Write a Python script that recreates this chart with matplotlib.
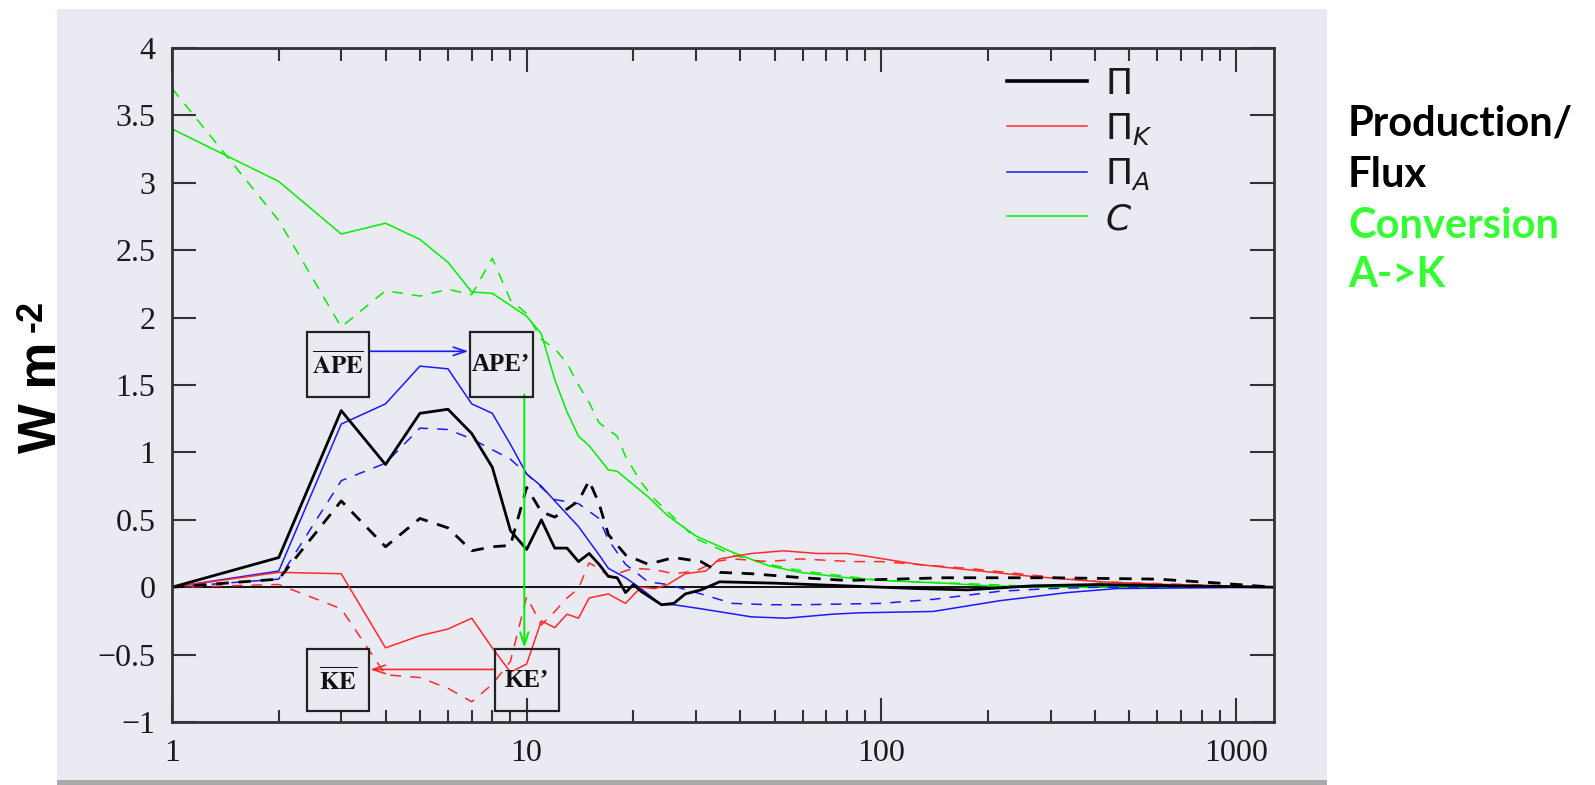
import numpy as np
import matplotlib
matplotlib.use('Agg')
import matplotlib.pyplot as plt
from matplotlib.patches import Rectangle
from matplotlib.lines import Line2D

# wavenumber / flux data (solid = one run, dashed = other)
x_pi = [1, 2, 3, 4, 5, 6, 7, 8, 9, 10, 11, 12, 13, 14, 15, 16, 17, 18, 19, 20, 21, 24, 26, 28, 31, 35, 50, 126, 175, 266, 413, 700, 1280]
y_pi = [0, 0.22, 1.31, 0.91, 1.29, 1.32, 1.14, 0.89, 0.42, 0.28, 0.50, 0.29, 0.29, 0.19, 0.25, 0.17, 0.08, 0.07, -0.04, 0.02, -0.03, -0.13, -0.12, -0.05, -0.02, 0.04, 0.03, -0.01, -0.02, 0.01, 0.02, 0.01, 0.0]
x_pi_d = [1, 2, 3, 4, 5, 6, 7, 8, 9, 10, 11, 12, 13, 14, 15, 16, 17, 19, 22, 26, 31, 35, 43, 60, 80, 150, 300, 600, 900, 1280]
y_pi_d = [0, 0.06, 0.64, 0.30, 0.51, 0.44, 0.27, 0.30, 0.31, 0.74, 0.56, 0.52, 0.58, 0.64, 0.79, 0.62, 0.39, 0.24, 0.17, 0.22, 0.19, 0.11, 0.10, 0.07, 0.05, 0.07, 0.07, 0.06, 0.03, 0.0]

x_pk = [1, 2, 3, 4, 5, 6, 7, 8, 9, 10, 11, 12, 13, 14, 15, 17, 19, 21, 23, 25, 28, 32, 35, 43, 53, 66, 80, 91, 126, 175, 266, 413, 640, 1280]
y_pk = [0, 0.11, 0.10, -0.45, -0.36, -0.31, -0.23, -0.45, -0.63, -0.57, -0.25, -0.30, -0.20, -0.23, -0.08, -0.05, -0.12, 0.0, -0.01, 0.02, 0.10, 0.12, 0.21, 0.25, 0.27, 0.25, 0.25, 0.23, 0.17, 0.13, 0.08, 0.04, 0.02, 0.0]
x_pk_d = [1, 2, 3, 4, 5, 6, 7, 8, 9, 10, 11, 12, 13, 14, 15, 16, 17, 20, 23, 26, 30, 34, 38, 48, 59, 82, 100, 175, 266, 413, 1280]
y_pk_d = [0, 0.02, -0.16, -0.65, -0.67, -0.75, -0.85, -0.72, -0.55, -0.07, -0.28, -0.18, -0.08, -0.01, 0.18, 0.14, 0.08, 0.14, 0.13, 0.10, 0.12, 0.19, 0.21, 0.19, 0.21, 0.19, 0.19, 0.14, 0.09, 0.04, 0.0]

x_pa = [1, 2, 3, 4, 5, 6, 7, 8, 9, 10, 11, 12, 14, 16, 17, 19, 21, 24, 26, 31, 43, 54, 73, 87, 140, 216, 334, 462, 1280]
y_pa = [0, 0.12, 1.21, 1.36, 1.64, 1.62, 1.36, 1.29, 1.06, 0.84, 0.75, 0.64, 0.45, 0.24, 0.14, 0.07, -0.01, -0.13, -0.13, -0.16, -0.22, -0.23, -0.20, -0.19, -0.18, -0.10, -0.04, -0.01, 0.0]
x_pa_d = [1, 2, 3, 4, 5, 6, 7, 8, 9, 10, 12, 14, 16, 17, 19, 22, 25, 31, 38, 48, 60, 100, 140, 216, 300, 413, 1280]
y_pa_d = [0, 0.06, 0.79, 0.92, 1.18, 1.17, 1.10, 1.02, 0.95, 0.84, 0.65, 0.62, 0.51, 0.35, 0.17, 0.04, 0.02, -0.05, -0.12, -0.13, -0.13, -0.12, -0.09, -0.03, -0.01, 0.0, 0.0]

x_c = [1, 2, 3, 4, 5, 6, 7, 8, 10, 11, 12, 13, 14, 15, 17, 18, 22, 25, 30, 38, 48, 59, 80, 100, 150, 200, 300, 1280]
y_c = [3.40, 3.01, 2.62, 2.70, 2.58, 2.41, 2.19, 2.18, 2.01, 1.88, 1.54, 1.30, 1.12, 1.05, 0.87, 0.86, 0.67, 0.53, 0.38, 0.26, 0.16, 0.11, 0.07, 0.05, 0.03, 0.01, 0.0, 0.0]
x_c_d = [1, 2, 3, 4, 5, 6, 7, 8, 9, 10, 11, 12, 13, 14, 15, 16, 18, 19, 21, 23, 30, 38, 50, 60, 80, 100, 200, 300, 1280]
y_c_d = [3.70, 2.72, 1.93, 2.20, 2.16, 2.21, 2.17, 2.44, 2.13, 2.03, 1.84, 1.77, 1.66, 1.50, 1.37, 1.22, 1.12, 0.97, 0.78, 0.65, 0.36, 0.24, 0.16, 0.12, 0.08, 0.05, 0.02, 0.0, 0.0]

yticks = [-1, -0.5, 0, 0.5, 1, 1.5, 2, 2.5, 3, 3.5, 4]
xticks = [1, 10, 100, 1000]

lav = '#eaeaf2'
red = '#ff2a2a'
blue = '#1a1aff'
green = '#00ee00'

fig = plt.figure(figsize=(15.95, 7.85), dpi=100)
fig.patch.set_facecolor('white')
W, H = 1595., 785.
fig.patches.append(Rectangle((57/W, 5/H), 1270/W, 771/H, transform=fig.transFigure,
                             facecolor=lav, edgecolor='none', zorder=-10))
fig.patches.append(Rectangle((57/W, 0), 1270/W, 5/H, transform=fig.transFigure,
                             facecolor='#a9a9a9', edgecolor='none', zorder=-10))

ax = fig.add_axes([172/W, 1 - 722/H, 1102/W, 674/H])
ax.set_facecolor(lav)
ax.set_xscale('log')
ax.set_xlim(1, 1280)
ax.set_ylim(-1, 4)

ax.axhline(0, color='black', lw=1.3, zorder=1)

dash = dict(dashes=(7, 6))
ax.plot(x_c, y_c, color=green, lw=1.1)
ax.plot(x_c_d, y_c_d, color=green, lw=1.1, **dash)
ax.plot(x_pa, y_pa, color=blue, lw=1.1)
ax.plot(x_pa_d, y_pa_d, color=blue, lw=1.1, **dash)
ax.plot(x_pk, y_pk, color=red, lw=1.1)
ax.plot(x_pk_d, y_pk_d, color=red, lw=1.1, **dash)
ax.plot(x_pi, y_pi, color='black', lw=2.0)
ax.plot(x_pi_d, y_pi_d, color='black', lw=2.0, dashes=(4.5, 3.5))

# energy boxes
def box(x0, x1, y0, y1, label):
    ax.add_patch(Rectangle((x0, y0), x1 - x0, y1 - y0, facecolor='none',
                           edgecolor='#222222', lw=1.6, zorder=5))
    xc = np.sqrt(x0 * x1)
    ax.text(xc, (y0 + y1) / 2, label, ha='center', va='center', fontsize=18,
            fontweight='bold', family='Liberation Serif', math_fontfamily='stix',
            color='#111111', zorder=6)

box(2.40, 3.59, 1.41, 1.89, r'$\overline{\mathbf{APE}}$')
box(6.91, 10.4, 1.41, 1.89, 'APE\u2019')
box(2.40, 3.59, -0.92, -0.46, r'$\overline{\mathbf{KE}}$')
box(8.13, 12.3, -0.92, -0.46, 'KE\u2019')

arr = '->,head_length=0.9,head_width=0.3'
ax.annotate('', xy=(6.85, 1.75), xytext=(3.59, 1.75),
            arrowprops=dict(arrowstyle=arr, color=blue, lw=1.2, shrinkA=0, shrinkB=0))
ax.annotate('', xy=(9.85, -0.45), xytext=(9.85, 1.43),
            arrowprops=dict(arrowstyle=arr, color=green, lw=1.4, shrinkA=0, shrinkB=0))
ax.annotate('', xy=(3.62, -0.61), xytext=(8.13, -0.61),
            arrowprops=dict(arrowstyle=arr, color=red, lw=1.2, shrinkA=0, shrinkB=0))

# legend
handles = [Line2D([], [], color='black', lw=2.6),
           Line2D([], [], color=red, lw=1.1),
           Line2D([], [], color=blue, lw=1.1),
           Line2D([], [], color=green, lw=1.1)]
labels = [r'$\Pi$', r'$\Pi_K$', r'$\Pi_A$', r'$C$']
leg = ax.legend(handles, labels, loc='upper left', bbox_to_anchor=(0.758, 0.972),
                frameon=False, borderpad=0, borderaxespad=0, labelspacing=0.27,
                handlelength=2.2, handletextpad=0.5,
                prop=dict(size=26, math_fontfamily='dejavusans'))
for t in leg.get_texts():
    t.set_color('#1a1a1a')

# ticks
ax.set_xticks(xticks, labels=[str(v) for v in xticks])
ax.set_yticks(yticks, labels=['%g' % v if v >= 0 else '\u2212%g' % -v for v in yticks])
ax.tick_params(which='both', direction='in', top=True, right=True, color='#333333', width=1.5)
ax.tick_params(which='major', length=17, pad=12, labelsize=23, labelcolor='#1a1a1a')
ax.tick_params(which='minor', length=9)
for lab in ax.get_xticklabels() + ax.get_yticklabels():
    lab.set_family('Liberation Serif')
for s in ax.spines.values():
    s.set_color('#333333')
    s.set_linewidth(2)

# y label, superscript drawn separately to keep a short hyphen
fig.text(42/W, 1 - 397/H, 'W m', rotation=90, ha='center', va='center',
         fontsize=38, fontweight='bold', family='Liberation Sans')
fig.text(32/W, 1 - 316/H, '-2', rotation=90, ha='center', va='center',
         fontsize=26, fontweight='bold', family='Liberation Sans')

tx = 1348/W
fig.text(tx, 1 - 135/H, 'Production/', fontsize=30, fontweight='bold', family='Lato', color='black')
fig.text(tx, 1 - 187/H, 'Flux', fontsize=30, fontweight='bold', family='Lato', color='black')
fig.text(tx, 1 - 238/H, 'Conversion', fontsize=30, fontweight='bold', family='Lato', color='#33ff33')
fig.text(tx, 1 - 287/H, 'A->K', fontsize=30, fontweight='bold', family='Lato', color='#33ff33')

fig.savefig('out.png', dpi=100)
